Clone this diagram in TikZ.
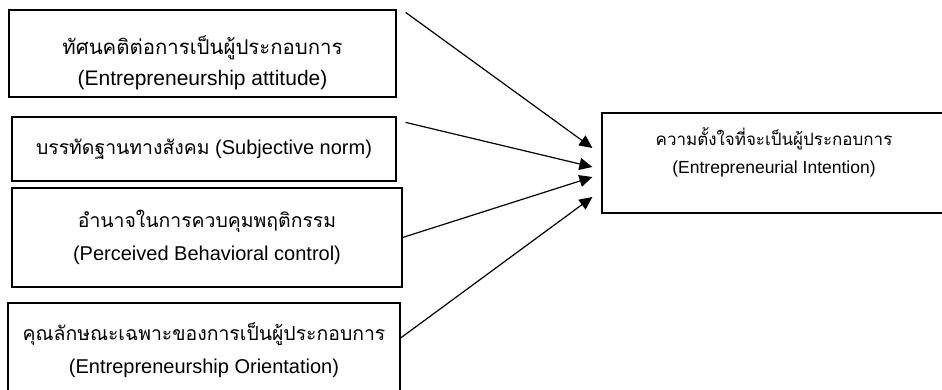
\documentclass[tikz,border=0pt]{standalone}
\usepackage{fontspec}
\setmainfont{Liberation Sans}
\newfontfamily\thaifont[Script=Thai,Scale=0.97]{Loma}
\usetikzlibrary{arrows.meta, positioning, calc}

\begin{document}
\begin{tikzpicture}[
  x=1pt, y=-1pt,
  factor/.style={draw, line width=1.2pt, align=center, inner sep=0pt, font=\fontsize{20}{33}\selectfont},
  link/.style={line width=1.2pt, -{Triangle[length=13pt, width=12pt]}},
]
\clip (0,0) rectangle (942,390);
\node[factor, minimum width=387pt, minimum height=87pt, font=\fontsize{21}{31}\selectfont] (att) at (202.5,53.5) {\rule{0pt}{38pt}{\thaifont ทัศนคติต่อการเป็นผู้ประกอบการ}\\(Entrepreneurship attitude)};
\node[factor, minimum width=384pt, minimum height=64pt] (sub) at (204,149) {{\thaifont บรรทัดฐานทางสังคม} (Subjective norm)};
\node[factor, minimum width=390pt, minimum height=99pt] (pbc) at (207,237.5) {{\thaifont อำนาจในการควบคุมพฤติกรรม}\\(Perceived Behavioral control)};
\node[factor, minimum width=392pt, minimum height=94pt] (ori) at (204,350) {{\thaifont คุณลักษณะเฉพาะของการเป็นผู้ประกอบการ}\\(Entrepreneurship Orientation)};
\node[factor, minimum width=344pt, minimum height=100pt, font=\fontsize{17.5}{28}\selectfont] (int) at (774,163) {{\thaifont ความตั้งใจที่จะเป็นผู้ประกอบการ}\\(Entrepreneurial Intention)\rule[-25pt]{0pt}{0pt}};
\draw[link] ($(att.north east)+(9,3)$) -- ($(int.west)+(-9,-15)$);
\draw[link] ($(sub.north east)+(9,6)$) -- ($(int.west)+(-9,4)$);
\draw[link] (pbc.east) -- ($(int.west)+(-9,14)$);
\draw[link] ($(ori.east)+(0,-12)$) -- ($(int.west)+(-9,34)$);
\end{tikzpicture}
\end{document}
